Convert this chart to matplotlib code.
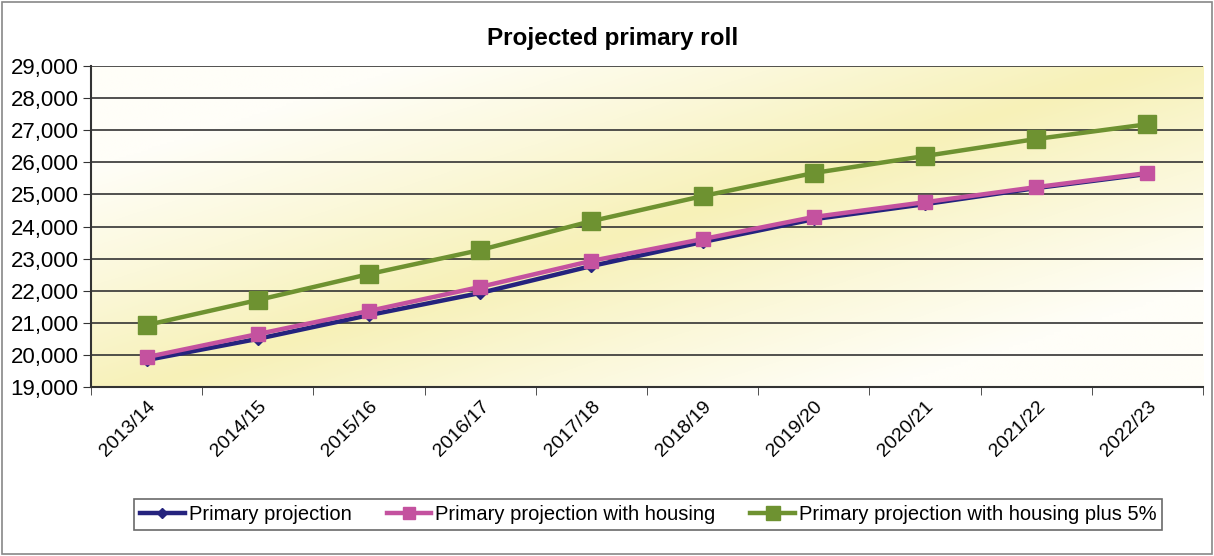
import numpy as np
import matplotlib.pyplot as plt
from matplotlib.colors import LinearSegmentedColormap
from matplotlib.patches import Rectangle
from matplotlib.ticker import FuncFormatter, MultipleLocator

plt.rcParams['font.family'] = ['Liberation Sans', 'DejaVu Sans']

years = ["2013/14", "2014/15", "2015/16", "2016/17", "2017/18",
         "2018/19", "2019/20", "2020/21", "2021/22", "2022/23"]
primary = [19840, 20500, 21240, 21930, 22770, 23520, 24230, 24700, 25200, 25640]
with_housing = [19930, 20650, 21370, 22120, 22930, 23610, 24300, 24760, 25230, 25670]
housing_plus5 = [20930, 21710, 22520, 23270, 24170, 24950, 25670, 26200, 26730, 27190]

fig = plt.figure(figsize=(12.14, 5.56), dpi=100)
ax = fig.add_axes([0.075, 0.304, 0.916, 0.577])

# pale yellow diagonal wash behind the plot
gx, gy = np.meshgrid(np.linspace(0, 1, 300), np.linspace(0, 1, 150))
d = np.clip(np.abs(gx - gy * 0.9 - 0.05) * 1.5, 0, 1)
wash = LinearSegmentedColormap.from_list("wash", ["#F7F1B8", "#FBF8DA", "#FFFEF8"])
ax.imshow(d, cmap=wash, extent=[-0.5, 9.5, 19000, 29000], origin="lower",
          aspect="auto", zorder=0, interpolation="bilinear")

x = np.arange(len(years))
ax.plot(x, primary, color="#25237E", lw=3.2, marker="D", ms=6,
        label="Primary projection", zorder=4)
ax.plot(x, with_housing, color="#C4529F", lw=3.2, marker="s", ms=10,
        label="Primary projection with housing", zorder=5)
ax.plot(x, housing_plus5, color="#6E9231", lw=3.2, marker="s", ms=13,
        label="Primary projection with housing plus 5%", zorder=3)

ax.set_xlim(-0.5, 9.5)
ax.set_ylim(19000, 29000)
ax.yaxis.set_major_locator(MultipleLocator(1000))
ax.yaxis.set_major_formatter(FuncFormatter(lambda v, p: f"{int(v):,}"))
ax.grid(axis="y", color="#333333", lw=1.2, zorder=1)
ax.set_axisbelow(False)

ax.set_xticks(x)
ax.set_xticklabels(years, rotation=45, ha="right", rotation_mode="anchor", fontsize=14)
ax.set_xticks(np.arange(-0.5, 10, 1), minor=True)
ax.tick_params(axis="x", which="major", length=0, pad=8)
ax.tick_params(axis="x", which="minor", length=6, color="#333333")
ax.tick_params(axis="y", labelsize=16, length=6, color="#333333", pad=3)

for s in ["top", "right"]:
    ax.spines[s].set_visible(False)
ax.spines["left"].set_color("#333333")
ax.spines["bottom"].set_color("#333333")
ax.spines["left"].set_linewidth(1.5)
ax.spines["bottom"].set_linewidth(1.5)

fig.text(0.505, 0.93, "Projected primary roll", ha="center", va="center",
         fontsize=17.5, fontweight="bold")

leg = fig.legend(loc="center", bbox_to_anchor=(0.534, 0.075), ncol=3,
                 fontsize=14.5, frameon=True, fancybox=False, edgecolor="#444444",
                 handlelength=2.2, handletextpad=0.2, columnspacing=1.75,
                 borderpad=0.3, borderaxespad=0.3, markerscale=0.8)
leg.get_frame().set_linewidth(1.2)

fig.patches.append(Rectangle((0.002, 0.003), 0.996, 0.994, transform=fig.transFigure,
                             fill=False, edgecolor="#888888", lw=1.2))

fig.savefig("out.png", dpi=100)
